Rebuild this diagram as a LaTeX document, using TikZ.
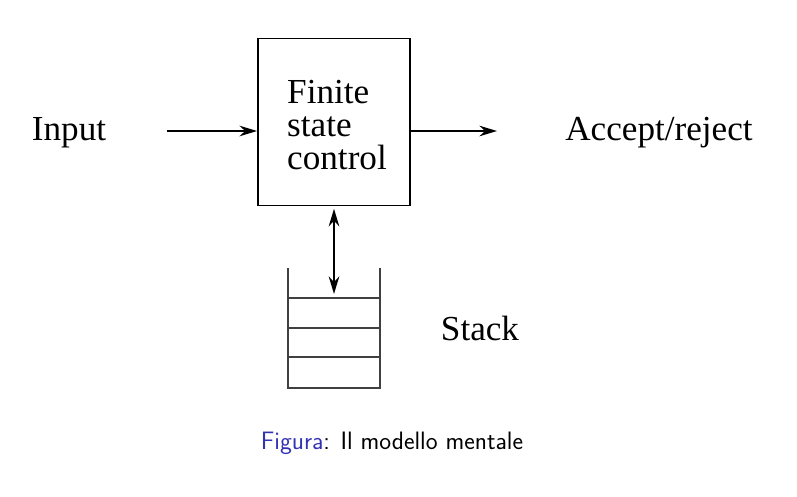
\documentclass[tikz,border=0pt]{standalone}
\usepackage{fontspec}
\setmainfont{Liberation Serif}
\usetikzlibrary{arrows.meta,positioning}
\definecolor{figblue}{RGB}{51,51,178}

\begin{document}
\begin{tikzpicture}[
        x=0.03cm, y=-0.03cm,
        blockbox/.style={draw, line width=1.6pt, minimum width=4.56cm, minimum height=5.01cm, inner sep=0pt},
        bigtext/.style={font=\fontsize{30}{28}\selectfont},
        tip/.style={Stealth[length=15pt, width=9pt]},
        flow/.style={line width=1.8pt, -{Stealth[length=15pt, width=9pt]}},
        stackline/.style={line width=1.4pt, draw=black!75},
        ]
        \useasboundingbox (0,0) rectangle (797,496);

        % Control box
        \node[blockbox] (fsc) at (334,122) {};
        \node[bigtext, align=left] (fsctext) at (337,125) {Finite\\state\\control};

        % Labels
        \node[bigtext] (input) at (69,133) {Input};
        \node[bigtext] (accept) at (659,133) {Accept/reject};
        \node[bigtext] (stacklabel) at (480,328) {Stack};

        % Arrow ends
        \coordinate (instart) at (167,131);
        \coordinate (outstart) at (410,131);
        \coordinate (outend) at (497,131);

        % Stack
        \coordinate (stl) at (288,268);
        \coordinate (str) at (380,268);
        \coordinate (sbl) at (288,388);
        \coordinate (sbr) at (380,388);
        \coordinate (stop) at (334,294);
        \draw[stackline] (stl) -- (sbl) -- (sbr) -- (str);
        \foreach \y in {298,328,357} {
            \draw[stackline] (288,\y) -- (380,\y);
        }

        % Arrows
        \draw[flow] (instart) -- (instart -| fsc.west);
        \draw[flow] (outstart) -- (outend);
        \draw[line width=1.8pt, {Stealth[length=15pt, width=9pt]}-{Stealth[length=15pt, width=9pt]}] ([yshift=-2pt]fsc.south) -- (stop);

        % Caption
        \node[font=\sffamily\fontsize{21.5}{24}\selectfont] (caption) at (392,443) {\textcolor{figblue}{Figura}: Il modello mentale};

    \end{tikzpicture}
\end{document}
